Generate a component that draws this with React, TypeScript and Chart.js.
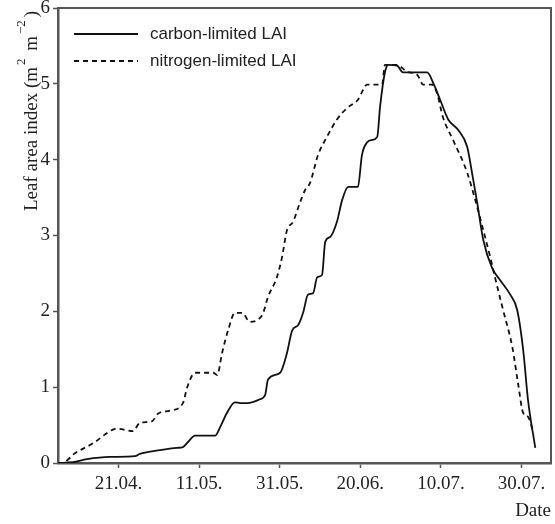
import React, { useEffect, useRef } from 'react';
import { Chart, registerables } from 'chart.js';

Chart.register(...registerables);

// Days counted from 06.04.
const carbonDays = [0, 3.7, 7.2, 12.9, 19.1, 20.3, 25.3, 29.5, 31, 32.3, 34, 37, 39, 40.2, 41.9, 43.9, 45.2, 46.9, 50.1, 51.4, 52.1, 55.1, 56.8, 58.1, 59.6, 60.8, 62, 63.3, 64.3, 65.5, 66.3, 67.5, 69.2, 70.5, 72, 74.4, 75.4, 76.7, 77.9, 79.2, 79.9, 81.1, 81.9, 84.1, 85.6, 88.1, 91.6, 93.1, 94.8, 96.8, 99.3, 101.5, 102.7, 104, 105.5, 107.7, 109.7, 112.2, 113.9, 115.4, 116.6, 118.4];
const carbonLAI = [0, 0.01, 0.05, 0.08, 0.09, 0.12, 0.17, 0.2, 0.21, 0.28, 0.36, 0.36, 0.36, 0.47, 0.66, 0.8, 0.79, 0.79, 0.84, 0.9, 1.1, 1.19, 1.45, 1.75, 1.82, 1.98, 2.22, 2.24, 2.45, 2.48, 2.92, 2.98, 3.18, 3.47, 3.64, 3.64, 4.06, 4.23, 4.26, 4.3, 4.7, 5.15, 5.25, 5.24, 5.15, 5.15, 5.15, 5.01, 4.79, 4.53, 4.39, 4.17, 3.83, 3.43, 2.94, 2.57, 2.41, 2.22, 2.02, 1.49, 0.83, 0.2];

const nitrogenDays = [0, 1, 4.2, 8.7, 13.6, 14.9, 18.6, 20.3, 23.3, 24.8, 27.8, 31, 32, 34, 38.5, 39.5, 40.7, 42.2, 43.9, 45.7, 47.6, 49.6, 50.9, 52.1, 54.3, 55.6, 56.8, 58.3, 60, 61.3, 62.5, 64.5, 66.7, 69.2, 71.7, 74.4, 76.7, 80.4, 81.1, 84.1, 86.6, 89.1, 90.6, 92.8, 94, 95.5, 98, 101.5, 103.5, 105.5, 107.2, 108.4, 110.4, 112.7, 114.1, 115.4, 116.6, 117.9];
const nitrogenLAI = [0, 0, 0.13, 0.26, 0.44, 0.45, 0.42, 0.53, 0.55, 0.65, 0.69, 0.79, 0.99, 1.19, 1.19, 1.16, 1.45, 1.75, 1.98, 1.98, 1.86, 1.89, 1.98, 2.19, 2.45, 2.72, 3.07, 3.18, 3.43, 3.6, 3.69, 4.06, 4.3, 4.53, 4.68, 4.79, 4.99, 4.99, 5.25, 5.25, 5.16, 5.12, 4.99, 4.99, 4.88, 4.56, 4.26, 3.83, 3.47, 3.07, 2.72, 2.45, 2.02, 1.53, 1.06, 0.66, 0.61, 0.41];

const xTickDays = [15, 35, 55, 75, 95, 115];
const xTickLabels = ['21.04.', '11.05.', '31.05.', '20.06.', '10.07.', '30.07.'];
const xMin = 0;
const xMax = 122.3;
const yMin = 0;
const yMax = 6;

const seriesLabels = ['carbon-limited LAI', 'nitrogen-limited LAI'];
const xTitle = 'Date';
const yTitleParts = [
  { text: 'Leaf area index (m', sup: false },
  { text: '2', sup: true },
  { text: ' m', sup: false },
  { text: '\u22122', sup: true },
  { text: ')', sup: false },
];

const SERIF = '"Liberation Serif", "Times New Roman", serif';
const SANS = '"Liberation Sans", Arial, sans-serif';
const AXIS_COLOR = '#555';
const TEXT_COLOR = '#222';
const LINE_COLOR = '#111';

export default function App() {
  const ref = useRef<HTMLCanvasElement>(null);

  useEffect(() => {
    document.body.style.margin = '0';
    const canvas = ref.current;
    if (!canvas) return;

    const boxPlugin = {
      id: 'boxPlugin',
      afterDraw(chart: any) {
        const { ctx, chartArea } = chart;
        const { left, top, right, bottom } = chartArea;
        ctx.save();
        ctx.strokeStyle = AXIS_COLOR;
        ctx.lineWidth = 2;
        ctx.beginPath();
        ctx.moveTo(left, top);
        ctx.lineTo(right, top);
        ctx.lineTo(right, bottom);
        ctx.stroke();
        ctx.restore();
      },
    };

    const legendPlugin = {
      id: 'insideLegend',
      afterDraw(chart: any) {
        const { ctx, chartArea } = chart;
        const { left, top } = chartArea;
        ctx.save();
        chart.data.datasets.forEach((ds: any, i: number) => {
          const y = top + 26 + i * 27;
          ctx.strokeStyle = ds.borderColor;
          ctx.lineWidth = 2;
          ctx.setLineDash(ds.borderDash || []);
          ctx.beginPath();
          ctx.moveTo(left + 16, y);
          ctx.lineTo(left + 80, y);
          ctx.stroke();
          ctx.setLineDash([]);
          ctx.fillStyle = TEXT_COLOR;
          ctx.font = '17px ' + SANS;
          ctx.textAlign = 'left';
          ctx.textBaseline = 'middle';
          ctx.fillText(ds.label, left + 92, y);
        });
        ctx.restore();
      },
    };

    const yTitlePlugin = {
      id: 'yTitle',
      afterDraw(chart: any) {
        const { ctx } = chart;
        ctx.save();
        ctx.translate(37, 211);
        ctx.rotate(-Math.PI / 2);
        ctx.fillStyle = TEXT_COLOR;
        ctx.textAlign = 'left';
        ctx.textBaseline = 'alphabetic';
        let x = 0;
        yTitleParts.forEach((p) => {
          if (p.sup) {
            x += 2;
            ctx.font = '13px ' + SERIF;
            ctx.fillText(p.text, x, -12);
            x += ctx.measureText(p.text).width + 3;
          } else {
            ctx.font = '19px ' + SERIF;
            ctx.fillText(p.text, x, 0);
            x += ctx.measureText(p.text).width;
          }
        });
        ctx.restore();
      },
    };

    const chart = new Chart(canvas, {
      type: 'line',
      data: {
        datasets: [
          {
            label: seriesLabels[0],
            data: carbonDays.map((d, i) => ({ x: d, y: carbonLAI[i] })),
            borderColor: LINE_COLOR,
            borderWidth: 1.8,
            pointRadius: 0,
            fill: false,
            cubicInterpolationMode: 'monotone',
          },
          {
            label: seriesLabels[1],
            data: nitrogenDays.map((d, i) => ({ x: d, y: nitrogenLAI[i] })),
            borderColor: LINE_COLOR,
            borderWidth: 1.8,
            borderDash: [5, 4],
            pointRadius: 0,
            fill: false,
            cubicInterpolationMode: 'monotone',
          },
        ],
      },
      options: {
        responsive: false,
        animation: false,
        devicePixelRatio: 1,
        layout: { padding: { top: 8, right: 4, left: 0, bottom: 0 } },
        plugins: {
          legend: { display: false },
          tooltip: { enabled: false },
        },
        scales: {
          x: {
            type: 'linear',
            min: xMin,
            max: xMax,
            afterBuildTicks: (s: any) => {
              s.ticks = xTickDays.map((v) => ({ value: v }));
            },
            afterFit: (s: any) => {
              s.height = 61;
              s.paddingLeft = 0;
              s.paddingRight = 0;
            },
            ticks: {
              autoSkip: false,
              maxRotation: 0,
              padding: 5,
              color: TEXT_COLOR,
              font: { family: SERIF, size: 19 },
              callback: (v: any) => {
                const i = xTickDays.indexOf(Number(v));
                return i >= 0 ? xTickLabels[i] : '';
              },
            },
            grid: {
              drawOnChartArea: false,
              drawTicks: true,
              tickLength: 5,
              tickColor: AXIS_COLOR,
              tickWidth: 1.5,
            },
            border: { display: true, color: AXIS_COLOR, width: 2.5 },
            title: {
              display: true,
              text: xTitle,
              align: 'end',
              color: TEXT_COLOR,
              font: { family: SERIF, size: 19 },
              padding: { top: 0, bottom: 2 },
            },
          },
          y: {
            type: 'linear',
            min: yMin,
            max: yMax,
            afterFit: (s: any) => {
              s.width = 58;
              s.paddingTop = 0;
              s.paddingBottom = 0;
            },
            ticks: {
              stepSize: 1,
              padding: 3,
              color: TEXT_COLOR,
              font: { family: SERIF, size: 19 },
            },
            grid: {
              drawOnChartArea: false,
              drawTicks: true,
              tickLength: 5,
              tickColor: AXIS_COLOR,
              tickWidth: 1.5,
            },
            border: { display: true, color: AXIS_COLOR, width: 2.5 },
          },
        },
      } as any,
      plugins: [boxPlugin, legendPlugin, yTitlePlugin],
    });

    return () => chart.destroy();
  }, []);

  return (
    <div style={{ width: 555, height: 524 }}>
      <canvas ref={ref} width={555} height={524} style={{ display: 'block' }} />
    </div>
  );
}
